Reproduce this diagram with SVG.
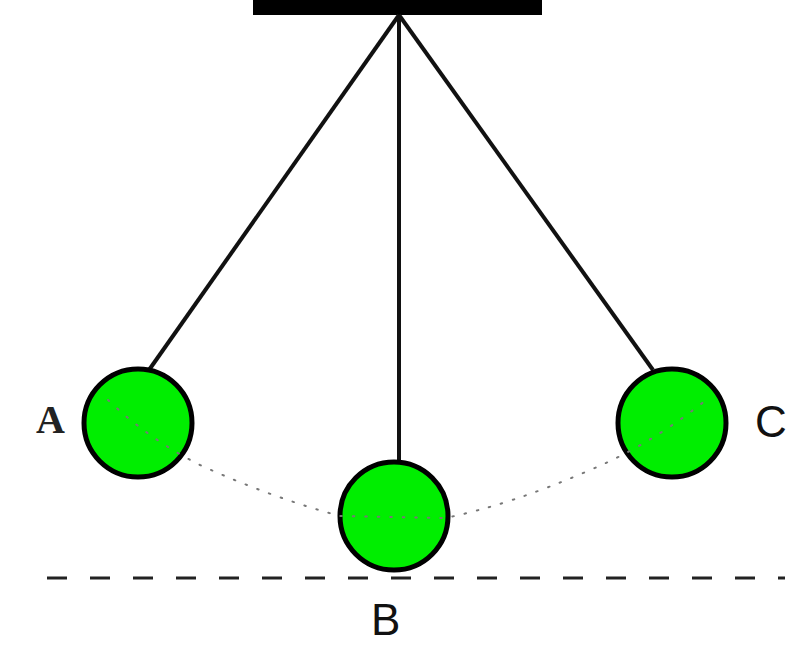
<svg xmlns="http://www.w3.org/2000/svg" width="803" height="647" viewBox="0 0 803 647">
<style>
.bob{fill:#00ee00;stroke:#000;stroke-width:5}
.str{stroke:#111;stroke-width:4;fill:none}
.sans{font-family:"Liberation Sans",Arial,sans-serif;font-size:44px;fill:#111}
.serif{font-family:"Liberation Serif","Times New Roman",serif;font-size:40px;font-weight:bold;fill:#222}
</style>
<rect width="803" height="647" fill="#fff"/>
<g id="support"><rect x="253" y="0" width="289" height="15" fill="#000"/></g>
<g id="connectors">
<line class="str" x1="399" y1="15" x2="149" y2="370"/>
<line class="str" x1="399" y1="15" x2="399" y2="464"/>
<line class="str" x1="399" y1="15" x2="653" y2="370"/>
<line x1="47" y1="578" x2="785" y2="578" stroke="#222" stroke-width="3" stroke-dasharray="20 23"/>
</g>
<g id="bobA"><circle class="bob" cx="138" cy="423" r="54"/></g>
<g id="bobB"><circle class="bob" cx="394" cy="516" r="54"/></g>
<g id="bobC"><circle class="bob" cx="672" cy="423" r="54"/></g>
<path id="path" d="M108 400 Q150 440 200 465 Q270 497 340 516 L445 518 Q510 505 590 470 Q650 445 706 400" fill="none" stroke="#777" stroke-width="2" stroke-dasharray="1.5 11" stroke-linecap="round"/>
<g id="labels">
<text class="serif" x="36" y="433">A</text>
<text class="sans" x="371" y="635">B</text>
<text class="sans" x="755" y="437">C</text>
</g>
</svg>
